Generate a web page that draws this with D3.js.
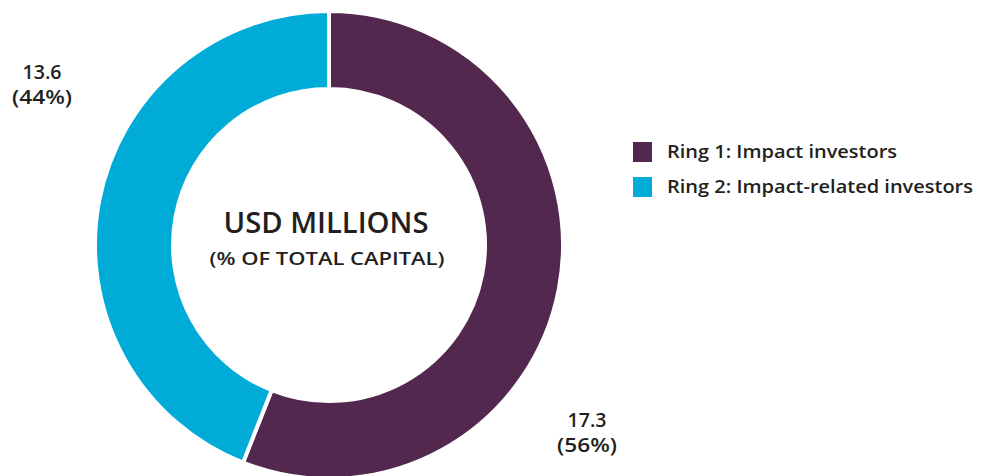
<!DOCTYPE html>
<html><head><meta charset="utf-8">
<script src="https://cdn.jsdelivr.net/npm/d3@7"></script>
<style>body{margin:0;background:#fff;} svg{display:block;font-family:"Open Sans",Lato,sans-serif;}</style>
</head><body>
<svg id="c" width="981" height="476"></svg>
<script>
const categories = ["Ring 1: Impact investors", "Ring 2: Impact-related investors"];
const values = [17.3, 13.6];
const percents = ["56%", "44%"];
const colors = ["#52284e", "#00acd7"];

const svg = d3.select("#c");
const cx = 329, cy = 245, R = 234, r = 156;
const g = svg.append("g").attr("transform", `translate(${cx},${cy})`);
const pie = d3.pie().sort(null).value(d => d)(values);
const arc = d3.arc().innerRadius(r).outerRadius(R);
g.selectAll("path").data(pie).join("path")
  .attr("d", arc).attr("fill", (d,i) => colors[i])
  .attr("stroke", "#fff").attr("stroke-width", 4);

const txt = "#231f20";
function fit(sel, w) { sel.attr("textLength", w).attr("lengthAdjust", "spacingAndGlyphs"); return sel; }

// value labels
const labelPos = [[587, 427, 452], [42, 79, 104]];
values.forEach((v, i) => {
  const [x, y1, y2] = labelPos[i];
  fit(svg.append("text").attr("x", x).attr("y", y1).attr("text-anchor", "middle").attr("fill", txt)
    .attr("font-size", 20).attr("font-weight", 600).text(v.toFixed(1)), 39);
  fit(svg.append("text").attr("x", x).attr("y", y2).attr("text-anchor", "middle").attr("fill", txt)
    .attr("font-size", 20).attr("font-weight", 600).text(`(${percents[i]})`), 60);
});

// center text
fit(svg.append("text").attr("x", 326).attr("y", 233).attr("text-anchor", "middle")
  .attr("fill", txt).attr("font-size", 29).attr("font-weight", 600).text("USD MILLIONS"), 205);
fit(svg.append("text").attr("x", 327).attr("y", 265).attr("text-anchor", "middle")
  .attr("fill", txt).attr("font-size", 18).attr("font-weight", 600).text("(% OF TOTAL CAPITAL)"), 235);

// legend
const legendW = [230, 306];
const lg = svg.append("g");
categories.forEach((c, i) => {
  const y = 142 + i * 35;
  lg.append("rect").attr("x", 633).attr("y", y).attr("width", 19).attr("height", 20).attr("fill", colors[i]);
  fit(lg.append("text").attr("x", 667).attr("y", y + 16).attr("fill", txt)
    .attr("font-size", 18.5).attr("font-weight", 600).text(c), legendW[i]);
});
</script>
</body></html>
